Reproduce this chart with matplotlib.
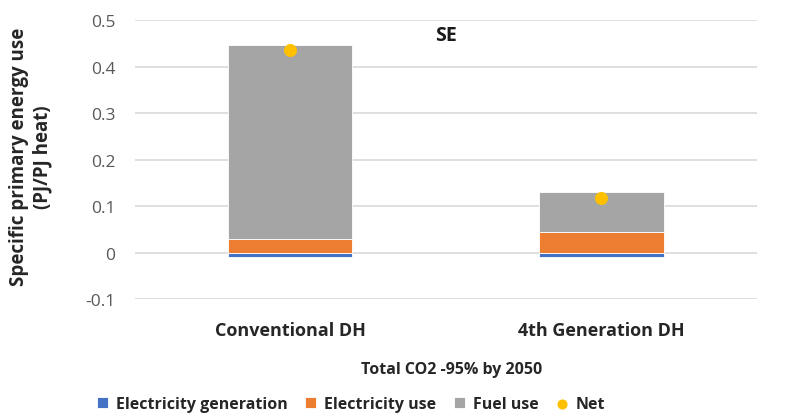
import matplotlib.pyplot as plt
import numpy as np

plt.rcParams['font.family'] = ['Open Sans', 'DejaVu Sans']

# data
categories = ['Conventional DH', '4th Generation DH']
elec_generation = [-0.01, -0.01]
elec_use = [0.029, 0.044]
fuel_use = [0.417, 0.087]
net = [0.436, 0.118]

fig = plt.figure(figsize=(7.87, 4.14), dpi=100)
ax = fig.add_axes([0.171, 0.275, 0.791, 0.674])

x = np.arange(len(categories))
w = 0.4
b1 = ax.bar(x, elec_generation, w, color='#4472c4', edgecolor='white', linewidth=0.6, zorder=3)
b2 = ax.bar(x, elec_use, w, color='#ed7d31', edgecolor='white', linewidth=0.6, zorder=3)
b3 = ax.bar(x, fuel_use, w, bottom=elec_use, color='#a5a5a5', edgecolor='white', linewidth=0.6,
            zorder=3)
sc = ax.scatter(x, net, s=70, color='#ffc000', zorder=4)

ax.set_xlim(-0.5, 1.5)
ax.set_ylim(-0.1, 0.5)
ax.set_yticks([-0.1, 0, 0.1, 0.2, 0.3, 0.4, 0.5])
ax.set_yticklabels(['-0.1', '0', '0.1', '0.2', '0.3', '0.4', '0.5'])
ax.yaxis.grid(True, color='#d9d9d9', linewidth=1.2, zorder=0)
ax.set_axisbelow(True)
for s in ax.spines.values():
    s.set_visible(False)
ax.tick_params(axis='y', length=0, labelsize=12.5, labelcolor='#595959', pad=14)
ax.tick_params(axis='x', length=0, labelsize=13, pad=16)
ax.set_xticks(x)
ax.set_xticklabels(categories, fontweight='bold', color='#262626')

ax.text(0.5, 0.468, 'SE', fontsize=14, fontweight='bold', ha='center', va='center',
        color='#1a1a1a')

fig.text(31 / 787, 1 - 157 / 414, 'Specific primary energy use\n(PJ/PJ heat)', rotation=90,
         ha='center', va='center', fontsize=13.5, fontweight='bold', color='#262626',
         linespacing=1.25)
fig.text(452 / 787, 1 - 370 / 414, 'Total CO2 -95% by 2050', ha='center', va='center',
         fontsize=11.5, fontweight='bold', color='#262626')

leg = fig.legend([b1, b2, b3, sc], ['Electricity generation', 'Electricity use', 'Fuel use', 'Net'],
                 loc='center', bbox_to_anchor=(0.446, 0.022), ncol=4, frameon=False,
                 handlelength=0.7, handleheight=0.7, columnspacing=1.1,
                 handletextpad=0.5, markerscale=0.75, prop={'weight': 'bold', 'size': 11.5})
for t in leg.get_texts():
    t.set_color('#262626')

fig.savefig('out.png', dpi=100)
